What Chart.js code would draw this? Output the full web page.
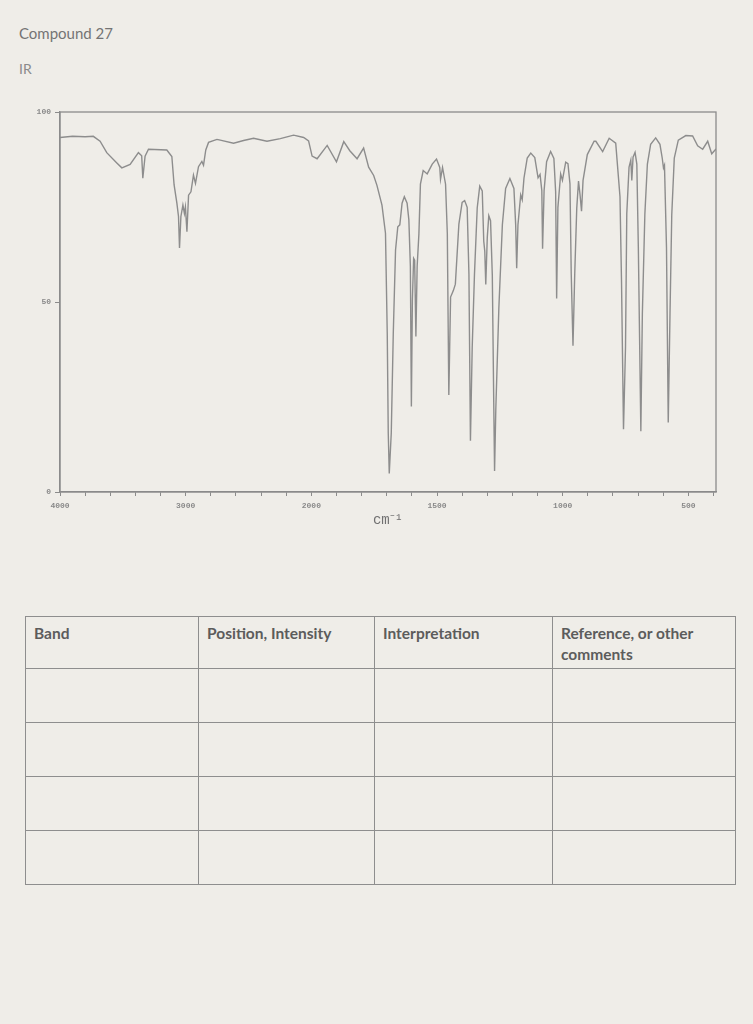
<!DOCTYPE html>
<html><head><meta charset="utf-8">
<script src="https://cdn.jsdelivr.net/npm/chart.js@4.4.1/dist/chart.umd.min.js"></script>
<style>
html,body{margin:0;padding:0;background:#efede8;}
body{width:753px;height:1024px;position:relative;overflow:hidden;font-family:Lato,"Open Sans",sans-serif;}
#t1{position:absolute;left:19px;top:24px;font-size:15px;color:#747474;}
#t2{position:absolute;left:19px;top:60px;font-size:14px;color:#8a8a8a;}
#wrap{position:absolute;left:0;top:0;width:753px;height:560px;}
table{position:absolute;left:25px;top:616px;width:710px;border-collapse:collapse;table-layout:fixed;}
td{border:1.5px solid #8e8e8e;vertical-align:top;padding:6px 8px 2px 8px;font-size:15.5px;line-height:21px;font-weight:bold;color:#5c5c5c;}
tr.h td{height:43px;}
tr.r td{height:45px;}
</style></head>
<body>
<div id="t1">Compound 27</div>
<div id="t2">IR</div>
<div id="wrap"><canvas id="c" width="753" height="560"></canvas></div>
<table>
<colgroup><col style="width:173px"><col style="width:176px"><col style="width:178px"><col style="width:183px"></colgroup>
<tr class="h"><td>Band</td><td>Position, Intensity</td><td>Interpretation</td><td>Reference, or other comments</td></tr>
<tr class="r"><td></td><td></td><td></td><td></td></tr>
<tr class="r"><td></td><td></td><td></td><td></td></tr>
<tr class="r"><td></td><td></td><td></td><td></td></tr>
<tr class="r"><td></td><td></td><td></td><td></td></tr>
</table>
<script>
const wavenumbers = [4000,3900,3800,3735,3681,3628,3548,3508,3442,3376,3350,3341,3323,3296,3150,3110,3092,3070,3057,3049,3038,3022,3010,3002,2990,2977,2958,2938,2922,2898,2871,2858,2840,2818,2751,2725,2619,2539,2460,2353,2247,2141,2061,2022,1997,1977,1937,1900,1871,1847,1818,1792,1772,1752,1739,1719,1705,1698,1694,1690,1682,1674,1665,1656,1648,1639,1630,1619,1612,1606,1602,1598,1593,1589,1584,1579,1572,1566,1555,1539,1519,1502,1489,1486,1478,1466,1459,1453,1446,1435,1427,1413,1400,1390,1380,1373,1367,1360,1351,1340,1330,1320,1314,1310,1306,1300,1294,1287,1280,1274,1271,1266,1254,1240,1227,1210,1194,1187,1183,1178,1167,1161,1154,1141,1127,1111,1098,1090,1083,1080,1074,1064,1048,1035,1028,1024,1019,1008,1001,988,979,971,966,959,952,944,937,931,925,919,902,875,868,841,815,789,772,766,758,750,745,736,729,725,720,712,705,699,689,683,673,663,650,630,613,604,599,595,587,580,573,566,556,540,510,483,463,443,423,407,390];
const transmittance = [93.3,93.6,93.5,93.6,92.3,89.3,86.6,85.3,86.2,89.3,88.5,82.6,88.4,90.2,90.0,88.3,80.8,76.0,72.5,64.2,72.5,75.5,73.3,75.0,68.5,78.1,79.0,83.4,81.2,85.6,87.0,86.0,90.0,92.0,92.8,92.6,91.8,92.5,93.1,92.3,93.0,93.9,93.3,92.4,88.4,87.7,91.2,86.9,92.2,89.8,87.7,90.5,85.5,83.3,80.7,75.5,68.1,41.8,15.5,4.9,15.5,41.8,63.7,69.8,70.3,76.0,77.7,76.0,71.6,59.4,22.5,50.4,61.5,61.0,40.9,59.4,68.0,81.0,84.6,83.7,86.3,87.6,85.4,82.3,85.4,81.0,68.0,25.5,51.3,53.0,54.7,70.5,76.2,76.7,74.9,57.4,13.5,38.0,57.2,74.8,80.5,79.2,66.0,63.4,54.6,67.0,72.7,71.4,57.1,22.0,5.5,22.0,48.3,70.3,79.9,82.5,79.9,70.3,58.9,70.3,78.2,76.9,82.6,87.9,89.2,88.0,82.7,83.6,79.3,64.0,79.3,86.9,89.6,87.8,79.0,50.9,74.9,83.7,82.0,86.8,86.4,81.1,57.5,38.5,57.5,74.7,81.8,78.3,73.9,82.0,88.8,92.3,92.3,89.6,93.1,91.8,77.7,55.7,16.5,38.2,73.2,85.5,87.3,82.0,88.1,89.4,86.3,64.4,16.0,46.9,73.2,86.3,91.5,93.2,91.5,87.9,85.3,86.0,64.4,18.3,46.9,73.0,87.9,92.6,93.8,93.7,91.1,90.2,92.3,89.0,90.3];
const xTickLabels = [4000,3000,2000,1500,1000,500];
const yTickLabels = [0,50,100];
const xEnd = 390;

// IR spectra use a split abscissa: 4000-2000 compressed to half the density of 2000-400
function toPos(w){ return w >= 2000 ? (4000 - w) / 1000 : 2 + (2000 - w) / 500; }

const points = wavenumbers.map((w, i) => ({x: toPos(w), y: transmittance[i]}));
const gray = '#8b8b8b';

const frame = {
  id: 'frame',
  afterDatasetsDraw(chart){
    const {ctx, chartArea: a} = chart;
    ctx.save();
    ctx.strokeStyle = gray; ctx.lineWidth = 1.3;
    ctx.strokeRect(a.left, a.top, a.right - a.left, a.bottom - a.top);
    ctx.restore();
  }
};

new Chart(document.getElementById('c'), {
  type: 'line',
  data: { datasets: [{ data: points, borderColor: '#8d8d8d', borderWidth: 1.4, pointRadius: 0, tension: 0, fill: false }] },
  options: {
    responsive: false, animation: false, devicePixelRatio: 1,
    layout: { padding: { left: 0, top: 112, right: 37, bottom: 28 } },
    plugins: { legend: { display: false }, tooltip: { enabled: false } },
    scales: {
      x: {
        type: 'linear', min: 0, max: toPos(xEnd),
        afterFit(s){ s.height = 40; },
        afterBuildTicks(s){
          const t = [];
          for (let k = 0; k * 0.2 <= toPos(xEnd) + 1e-9; k++) t.push({value: +(k * 0.2).toFixed(4)});
          s.ticks = t;
        },
        grid: { drawOnChartArea: false, drawTicks: true, tickLength: 4, tickColor: gray, lineWidth: 1 },
        border: { display: true, color: gray, width: 1.3 },
        ticks: {
          autoSkip: false, maxRotation: 0, padding: 5,
          font: { family: 'Liberation Mono', size: 8, weight: 'bold' }, color: '#8a8a8a',
          callback(v){ const l = xTickLabels.find(w => Math.abs(toPos(w) - v) < 1e-6); return l === undefined ? '' : String(l); }
        },
        title: { display: true, text: 'cm⁻¹', font: { family: 'Liberation Mono', size: 14 }, color: '#707070', padding: { top: 0, bottom: 3 } }
      },
      y: {
        min: 0, max: 100,
        afterFit(s){ s.width = 60; },
        ticks: {
          stepSize: 10, autoSkip: false, padding: 4,
          font: { family: 'Liberation Mono', size: 8, weight: 'bold' }, color: '#8a8a8a',
          callback(v){ return yTickLabels.includes(v) ? String(v) : ''; }
        },
        grid: { drawOnChartArea: false, drawTicks: true, tickLength: 5,
          tickColor: c => (yTickLabels.includes(c.tick.value) ? gray : 'rgba(0,0,0,0)') },
        border: { display: true, color: gray, width: 1.3 }
      }
    }
  },
  plugins: [frame]
});
</script>
</body></html>
